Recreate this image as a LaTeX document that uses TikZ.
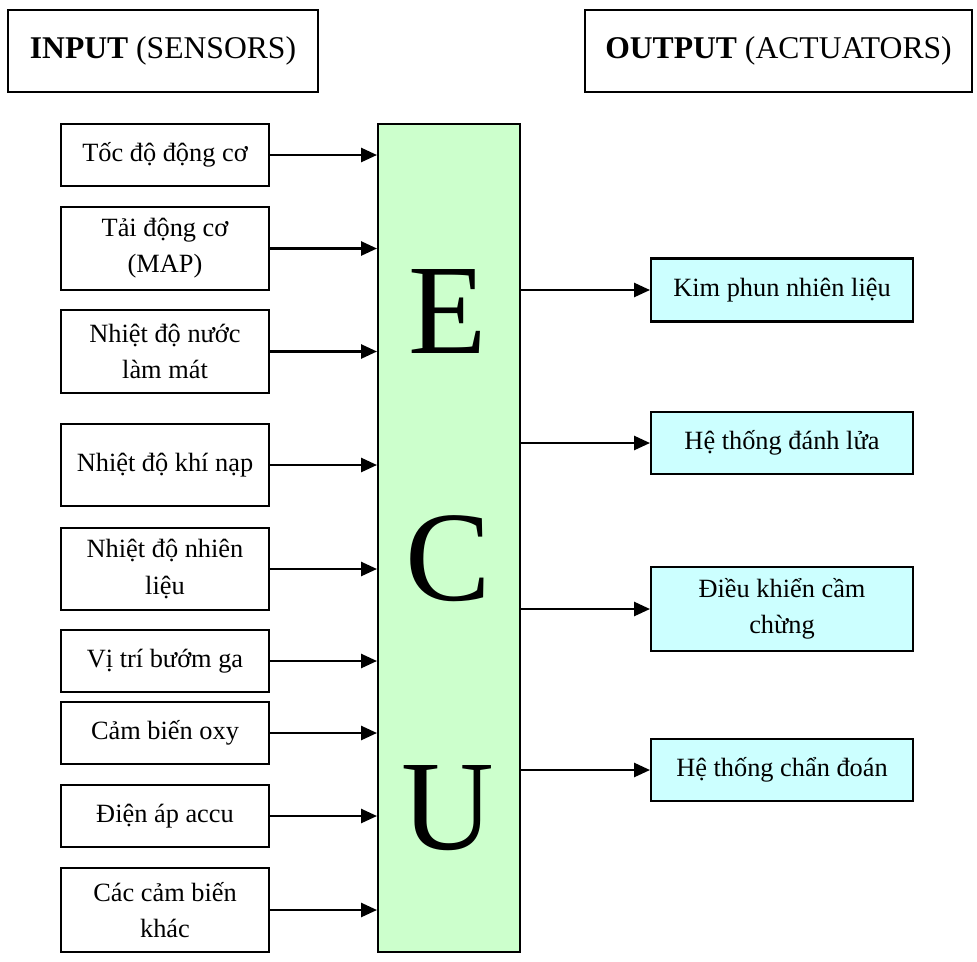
\documentclass[tikz,border=0pt]{standalone}
\usepackage{fontspec}
\setmainfont{Liberation Serif}
\usetikzlibrary{arrows.meta, positioning}

\definecolor{ecugreen}{HTML}{CCFFCC}
\definecolor{outcyan}{HTML}{CCFFFF}

\tikzset{
    headbox/.style={draw, line width=1.2pt, minimum height=1.64cm, inner sep=0pt, font=\fontsize{18}{22}\selectfont},
    inbox/.style={draw, line width=1.2pt, minimum width=4.16cm, inner sep=0pt, align=center, font=\fontsize{15}{20.5}\selectfont},
    outbox/.style={draw, line width=1.2pt, fill=outcyan, minimum width=5.24cm, inner sep=0pt, align=center, font=\fontsize{15}{20.5}\selectfont},
    sig/.style={line width=1.2pt, -{Triangle[length=9pt,width=8pt]}}
}

\begin{document}
\begin{tikzpicture}[x=0.02cm, y=-0.02cm]
    \useasboundingbox (0,0) rectangle (977,961);

    % Draw the two headers
    \node[headbox, minimum width=6.2cm] (inhead) at (163,51) {\textbf{INPUT} (SENSORS)};
    \node[headbox, minimum width=7.74cm] (outhead) at (778.5,51) {\textbf{OUTPUT} (ACTUATORS)};

    % Draw the ECU block
    \node[draw, line width=1.2pt, fill=ecugreen, minimum width=2.84cm, minimum height=16.56cm] (ecu) at (449,538) {};
    \node[font=\fontsize{73}{73}\selectfont, inner sep=0pt] (letE) at (448,311) {E};
    \node[font=\fontsize{73}{73}\selectfont, inner sep=0pt] (letC) at (448,559) {C};
    \node[font=\fontsize{73}{73}\selectfont, inner sep=0pt] (letU) at (448,808) {U};

    % Draw the sensor boxes
    \node[inbox, minimum height=1.24cm] (in1) at (165,155) {Tốc độ động cơ};
    \node[inbox, minimum height=1.66cm] (in2) at (165,248.5) {Tải động cơ\\(MAP)};
    \node[inbox, minimum height=1.66cm] (in3) at (165,351.5) {Nhiệt độ nước\\làm mát};
    \node[inbox, minimum height=1.64cm] (in4) at (165,465) {Nhiệt độ khí nạp};
    \node[inbox, minimum height=1.64cm] (in5) at (165,569) {Nhiệt độ nhiên\\liệu};
    \node[inbox, minimum height=1.24cm] (in6) at (165,661) {Vị trí bướm ga};
    \node[inbox, minimum height=1.24cm] (in7) at (165,733) {Cảm biến oxy};
    \node[inbox, minimum height=1.24cm] (in8) at (165,816) {Điện áp accu};
    \node[inbox, minimum height=1.68cm] (in9) at (165,910) {Các cảm biến\\khác};

    % Draw the actuator boxes
    \node[outbox, minimum height=1.26cm] (out1) at (782,290) {Kim phun nhiên liệu};
    \node[outbox, minimum height=1.24cm] (out2) at (782,443) {Hệ thống đánh lửa};
    \node[outbox, minimum height=1.68cm] (out3) at (782,609) {Điều khiển cầm\\chừng};
    \node[outbox, minimum height=1.24cm] (out4) at (782,770) {Hệ thống chẩn đoán};

    % Arrows from sensors into the ECU
    \draw[sig] (in1.east) -- (in1.east -| ecu.west);
    \draw[sig] (in2.east) -- (in2.east -| ecu.west);
    \draw[sig] (in3.east) -- (in3.east -| ecu.west);
    \draw[sig] (in4.east) -- (in4.east -| ecu.west);
    \draw[sig] (in5.east) -- (in5.east -| ecu.west);
    \draw[sig] (in6.east) -- (in6.east -| ecu.west);
    \draw[sig] (in7.east) -- (in7.east -| ecu.west);
    \draw[sig] (in8.east) -- (in8.east -| ecu.west);
    \draw[sig] (in9.east) -- (in9.east -| ecu.west);

    % Arrows from the ECU to the actuators
    \draw[sig] (ecu.east |- out1.west) -- (out1.west);
    \draw[sig] (ecu.east |- out2.west) -- (out2.west);
    \draw[sig] (ecu.east |- out3.west) -- (out3.west);
    \draw[sig] (ecu.east |- out4.west) -- (out4.west);

\end{tikzpicture}
\end{document}
